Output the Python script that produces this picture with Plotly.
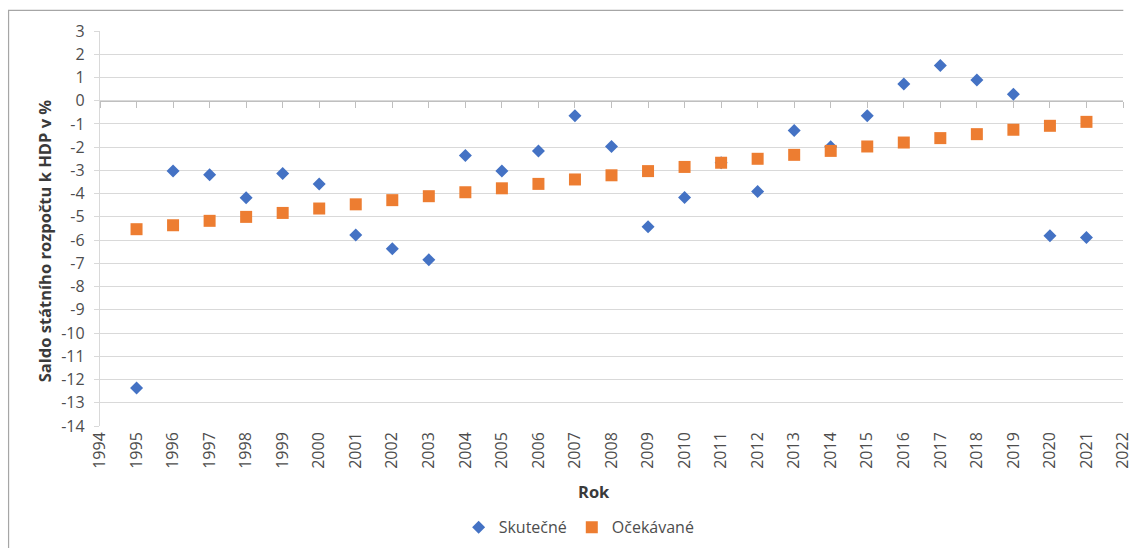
import plotly.graph_objects as go

years = list(range(1995, 2022))
skutecne = [-12.36, -3.02, -3.19, -4.18, -3.13, -3.58, -5.78, -6.37, -6.85,
            -2.36, -3.03, -2.16, -0.65, -1.97, -5.42, -4.17, -2.67, -3.91,
            -1.28, -1.98, -0.65, 0.72, 1.51, 0.89, 0.28, -5.81, -5.89]
ocekavane = [-5.53, -5.36, -5.17, -5.00, -4.83, -4.64, -4.46, -4.28, -4.11,
             -3.94, -3.77, -3.58, -3.39, -3.21, -3.03, -2.85, -2.67, -2.50,
             -2.33, -2.16, -1.97, -1.80, -1.61, -1.44, -1.25, -1.08, -0.91]
y_ticks = list(range(-14, 4))
y_tick_labels = [str(v) for v in y_ticks]  # plain hyphen minus, as in the original
x_ticks = list(range(1994, 2023))
x_tick_labels = [str(v) for v in x_ticks]

FONT = "Open Sans"
TXT = "#4d4d4d"
TITLE = "#3a3a3a"
GRID = "#d9d9d9"

fig = go.Figure()
fig.add_trace(go.Scatter(x=years, y=skutecne, mode="markers", name="Skutečné",
                         marker=dict(symbol="diamond", size=10, color="#4472C4", line=dict(width=0))))
fig.add_trace(go.Scatter(x=years, y=ocekavane, mode="markers", name="Očekávané",
                         marker=dict(symbol="square", size=12, color="#ED7D31", line=dict(width=0))))
# helper trace so the axis crossing at zero is drawn
fig.add_trace(go.Scatter(x=years, y=ocekavane, xaxis="x2", mode="markers", opacity=0,
                         showlegend=False, hoverinfo="skip"))

W, H = 1132, 548
L, R = 100, 1122.7
T, B = 30.7, 425.7
pw, ph = R - L, B - T

def px(x):  # screen x -> paper
    return (x - L) / pw

def py(y):  # screen y -> paper
    return (B - y) / ph

fig.update_layout(
    width=W, height=H,
    margin=dict(l=L, r=W - R, t=T, b=H - B, autoexpand=False),
    paper_bgcolor="white", plot_bgcolor="white",
    font=dict(family=FONT, size=16, color=TXT),
    xaxis=dict(range=[1994, 2022], tickmode="array", tickvals=x_ticks, ticktext=x_tick_labels,
               tickangle=-90, automargin=False, ticklabeloverflow="allow",
               showgrid=False, showline=False, zeroline=False, ticks="",
               tickfont=dict(size=16, color=TXT), ticklabelstandoff=2),
    xaxis2=dict(range=[1994, 2022], tickmode="array", tickvals=x_ticks, overlaying="x",
                anchor="free", position=14 / 17, side="bottom", automargin=False,
                showgrid=False, zeroline=False, showline=True, linecolor="#bfbfbf",
                linewidth=1, ticks="outside", ticklen=6, tickcolor="#bfbfbf",
                showticklabels=False),
    yaxis=dict(range=[-14, 3], tickmode="array", tickvals=y_ticks, ticktext=y_tick_labels,
               automargin=False, showgrid=True, gridcolor=GRID,
               gridwidth=1.3, zeroline=False, showline=True, linecolor=GRID, linewidth=1.3,
               ticks="outside", ticklen=5, tickcolor=GRID,
               tickfont=dict(size=16, color=TXT), ticklabelstandoff=6),
    showlegend=True,
    legend=dict(orientation="h", xanchor="center", x=px(579), yanchor="middle", y=py(527),
                font=dict(size=16, color=TXT), itemwidth=30, bgcolor="rgba(0,0,0,0)"),
    annotations=[
        dict(text="<b>Rok</b>", xref="paper", yref="paper", x=px(594), y=py(491),
             showarrow=False, font=dict(size=16.5, color=TITLE), xanchor="center", yanchor="middle"),
        dict(text="<b>Saldo státního rozpočtu k HDP v %</b>", xref="paper", yref="paper",
             x=px(44), y=py(240), textangle=-90, showarrow=False,
             font=dict(size=16.5, color=TITLE), xanchor="center", yanchor="middle"),
    ],
    shapes=[
        dict(type="line", xref="paper", yref="paper", x0=px(8.6), x1=px(8.6), y0=py(10), y1=py(560),
             line=dict(color="#a6a6a6", width=1.2)),
        dict(type="line", xref="paper", yref="paper", x0=px(8), x1=px(1123), y0=py(10), y1=py(10),
             line=dict(color="#a6a6a6", width=1.2)),
    ],
)

fig.write_html("out.html", config={"displayModeBar": False},
               post_script="document.body.style.margin='0';document.body.style.overflow='hidden';")
